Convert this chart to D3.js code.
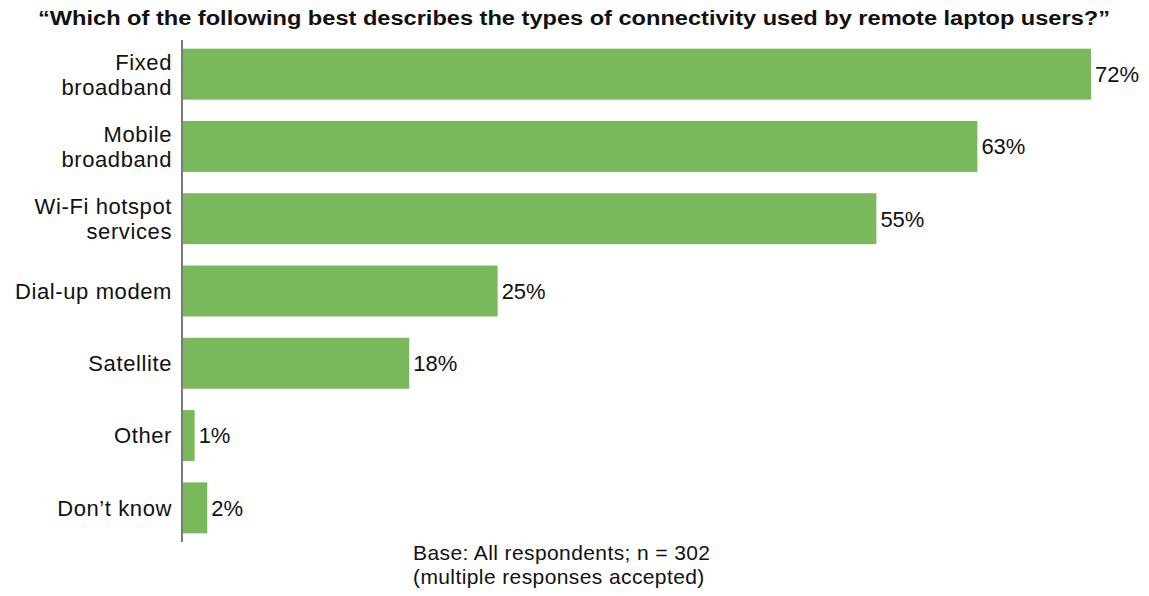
<!DOCTYPE html>
<html lang="en">
<head>
    <meta charset="UTF-8">
    <script src="https://d3js.org/d3.v7.min.js"></script>
    <title>Remote laptop connectivity</title>
    <style>
        body { margin: 0; background: #fff; }
        text { font-family: "Liberation Sans", Arial, sans-serif; fill: #111; }
    </style>
</head>
<body>
    <script>

        // data
        var categories = [["Fixed", "broadband"], ["Mobile", "broadband"], ["Wi-Fi hotspot", "services"],
                          ["Dial-up modem"], ["Satellite"], ["Other"], ["Don\u2019t know"]];
        var values = [72, 63, 55, 25, 18, 1, 2];
        var titleText = "\u201cWhich of the following best describes the types of connectivity used by remote laptop users?\u201d";
        var noteLines = ["Base: All respondents; n = 302", "(multiple responses accepted)"];

        var width = 1149, height = 596;
        var margin = {top: 38, right: 58, bottom: 52, left: 182};

        var data = categories.map(function(c, i) { return {key: c.join(" "), lines: c, value: values[i]}; });

        var svg = d3.select("body").append("svg")
            .attr("width", width)
            .attr("height", height);

        var xScale = d3.scaleLinear()
            .domain([0, 72])
            .range([margin.left, 1091]);

        var yScale = d3.scaleBand()
            .domain(data.map(function(d) { return d.key; }))
            .range([margin.top, height - margin.bottom])
            .paddingInner(0.295)
            .paddingOuter(0.1475);

        // title, stretched to the width it has in the picture
        svg.append("text")
            .attr("x", 574)
            .attr("y", 25)
            .attr("text-anchor", "middle")
            .attr("textLength", 1072)
            .attr("lengthAdjust", "spacingAndGlyphs")
            .style("font-weight", "bold")
            .style("font-size", "20px")
            .text(titleText);

        // bars
        svg.selectAll(".bar")
            .data(data)
            .enter()
            .append("rect")
            .attr("class", "bar")
            .attr("x", xScale(0))
            .attr("y", function(d) { return yScale(d.key); })
            .attr("width", function(d) { return xScale(d.value) - xScale(0); })
            .attr("height", yScale.bandwidth())
            .attr("fill", "#79b95c");

        // value labels
        svg.selectAll(".val")
            .data(data)
            .enter()
            .append("text")
            .attr("class", "val")
            .attr("x", function(d) { return xScale(d.value) + 4; })
            .attr("y", function(d) { return yScale(d.key) + yScale.bandwidth() / 2; })
            .attr("dy", "0.36em")
            .style("font-size", "22px")
            .text(function(d) { return d.value + "%"; });

        // category labels, one text per line so that the lines stay apart
        var lines = [];
        data.forEach(function(d) {
            var mid = yScale(d.key) + yScale.bandwidth() / 2;
            d.lines.forEach(function(l, i) {
                lines.push({text: l, y: mid + (i - (d.lines.length - 1) / 2) * 25});
            });
        });

        svg.selectAll(".cat")
            .data(lines)
            .enter()
            .append("text")
            .attr("class", "cat")
            .attr("text-anchor", "end")
            .attr("x", 172)
            .attr("y", function(d) { return d.y; })
            .attr("dy", "0.36em")
            .style("font-size", "22px")
            .style("letter-spacing", "0.6px")
            .text(function(d) { return d.text; });

        // vertical axis line
        svg.append("line")
            .attr("x1", xScale(0)).attr("x2", xScale(0))
            .attr("y1", margin.top + 2).attr("y2", height - margin.bottom - 2)
            .attr("stroke", "#7a7a7a")
            .attr("stroke-width", 2);

        // footnote
        svg.selectAll(".note")
            .data(noteLines)
            .enter()
            .append("text")
            .attr("class", "note")
            .attr("x", 413)
            .attr("y", function(d, i) { return 560 + i * 24; })
            .style("font-size", "21px")
            .style("letter-spacing", "0.4px")
            .text(function(d) { return d; });

    </script>
</body>
</html>
